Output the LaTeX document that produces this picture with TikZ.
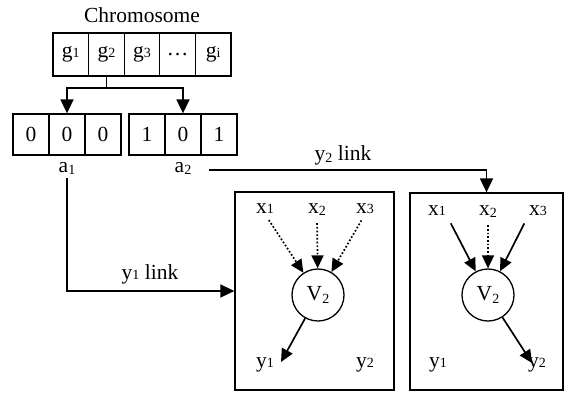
\documentclass[tikz,border=0pt]{standalone}
\usepackage{fontspec}
\setmainfont{Liberation Serif}
\usetikzlibrary{arrows.meta}
\newcommand{\bsub}[1]{{\fontsize{14}{14}\selectfont #1}}
\newcommand{\lsub}[1]{\raisebox{-0.3ex}{\fontsize{14}{14}\selectfont #1}}
\begin{document}
\begin{tikzpicture}[x=1pt,y=-1pt,
  every node/.style={font=\fontsize{21.5}{24}\selectfont},
  cell/.style={draw, line width=1.3pt, minimum width=35.6pt, minimum height=43pt, inner sep=0pt},
  acell/.style={cell, minimum width=36pt, minimum height=41pt},
  panel/.style={draw, line width=1.3pt, inner sep=0pt},
  vnode/.style={circle, draw, line width=1.3pt, minimum size=52pt, inner sep=0pt},
  lbl/.style={anchor=base, inner sep=1pt},
  conn/.style={line width=1.8pt},
  connarr/.style={conn, -{Triangle[length=14pt,width=13pt]}},
  solidarr/.style={line width=1.7pt, -{Triangle[length=13pt,width=12pt]}},
  dotarr/.style={line width=1.7pt, dash pattern=on 1.7pt off 2pt, -{Triangle[length=13pt,width=12pt]}}
]
\useasboundingbox (0,0) rectangle (572,392);

% chromosome
\node[lbl] (chr) at (142,22) {Chromosome};
\node[cell] (g1) at (70.8,54.5) {g\bsub{1}};
\node[cell] (g2) at (106.4,54.5) {g\bsub{2}};
\node[cell] (g3) at (142,54.5) {g\bsub{3}};
\node[cell] (g4) at (177.6,54.5) {\ldots};
\node[cell] (g5) at (213.2,54.5) {g\bsub{i}};

% a-cells
\node[acell] (b1) at (31,134.5) {0};
\node[acell] (b2) at (67,134.5) {0};
\node[acell] (b3) at (103,134.5) {0};
\node[acell] (c1) at (147,134.5) {1};
\node[acell] (c2) at (183,134.5) {0};
\node[acell] (c3) at (219,134.5) {1};
\node[lbl] (a1) at (67,172) {a\lsub{1}};
\node[lbl] (a2) at (183,172) {a\lsub{2}};

\coordinate (split) at (106.4,88);
\draw[conn] (g2.south) -- (split);
\draw[connarr] (split) -| (b2.north);
\draw[connarr] (split) -| (c2.north);

% panels
\node[panel, minimum width=159pt, minimum height=198pt] (lbox) at (314.5,291) {};
\node[panel, minimum width=153pt, minimum height=197pt] (rbox) at (486.5,291.5) {};

% links
\coordinate (y2s) at (209,170);
\draw[connarr] (y2s) -| (rbox.north);
\node[lbl] (y2lbl) at (343,160) {y\lsub{2} link};
\draw[connarr, shorten <=2pt] (a1.south) |- (lbox.west);
\node[lbl] (y1lbl) at (150,279) {y\bsub{1} link};

% left panel
\node[lbl] (lx1) at (265,213) {x\bsub{1}};
\node[lbl] (lx2) at (317,213) {x\lsub{2}};
\node[lbl] (lx3) at (365,213) {x\bsub{3}};
\node[vnode] (lv) at (318,295) {V\lsub{2}};
\node[lbl] (ly1) at (265,367) {y\bsub{1}};
\node[lbl] (ly2) at (365,367) {y\bsub{2}};
\coordinate (ly1t) at (281,362);
\draw[dotarr, shorten <=7pt] (lx1.south) -- (lv);
\draw[dotarr, shorten <=6pt] (lx2.south) -- (lv);
\draw[dotarr, shorten <=7pt] (lx3.south) -- (lv);
\draw[solidarr] (lv) -- (ly1t);

% right panel
\node[lbl] (rx1) at (437,215) {x\bsub{1}};
\node[lbl] (rx2) at (488,215) {x\lsub{2}};
\node[lbl] (rx3) at (538,215) {x\bsub{3}};
\node[vnode] (rv) at (488,295) {V\lsub{2}};
\node[lbl] (ry1) at (438,367) {y\bsub{1}};
\node[lbl] (ry2) at (537,367) {y\bsub{2}};
\coordinate (ry2t) at (532,363);
\draw[solidarr, shorten <=8pt] (rx1.south east) -- (rv);
\draw[dotarr, shorten <=6pt] (rx2.south) -- (rv);
\draw[solidarr, shorten <=8pt] (rx3.south west) -- (rv);
\draw[solidarr] (rv) -- (ry2t);
\end{tikzpicture}
\end{document}
